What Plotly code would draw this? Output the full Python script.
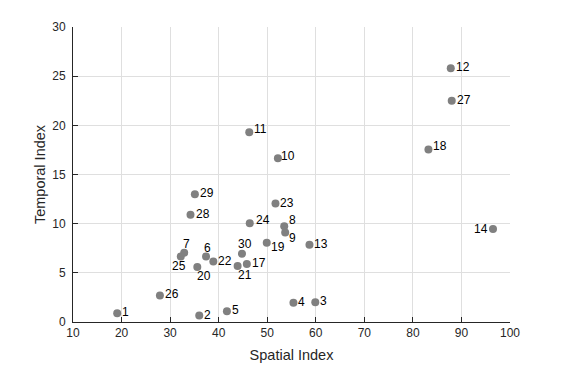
import plotly.graph_objects as go

# ---- data ----
ids = [1, 2, 3, 4, 5, 6, 7, 8, 9, 10,
       11, 12, 13, 14, 17, 18, 19, 20, 21, 22,
       23, 24, 25, 26, 27, 28, 29, 30]
spatial = [19.1, 36.0, 59.9, 55.4, 41.7, 37.4, 32.9, 53.5, 53.7, 52.2,
           46.3, 87.8, 58.7, 96.5, 45.8, 83.2, 49.9, 35.6, 43.9, 38.9,
           51.7, 46.4, 32.2, 27.9, 88.0, 34.2, 35.1, 44.8]
temporal = [0.9, 0.65, 2.0, 1.95, 1.1, 6.65, 7.05, 9.75, 9.1, 16.65,
            19.3, 25.8, 7.85, 9.45, 5.9, 17.55, 8.05, 5.6, 5.7, 6.15,
            12.05, 10.05, 6.65, 2.7, 22.5, 10.9, 13.0, 6.95]

x_ticks = list(range(10, 101, 10))
y_ticks = list(range(0, 31, 5))

# label placement (pixels) — default is just right of the marker
default_pos = dict(xshift=3, yshift=1, xanchor="left")
label_pos = {
    6: dict(xshift=-4, yshift=8.5, xanchor="left"),
    7: dict(xshift=-3, yshift=9, xanchor="left"),
    8: dict(xshift=3, yshift=6, xanchor="left"),
    9: dict(xshift=2, yshift=-5, xanchor="left"),
    10: dict(xshift=1, yshift=2.5, xanchor="left"),
    11: dict(xshift=3, yshift=3.5, xanchor="left"),
    14: dict(xshift=-3, yshift=0, xanchor="right"),
    18: dict(xshift=3, yshift=3, xanchor="left"),
    19: dict(xshift=2.5, yshift=-4, xanchor="left"),
    20: dict(xshift=-2.5, yshift=-9.5, xanchor="left"),
    21: dict(xshift=-1.5, yshift=-9.5, xanchor="left"),
    24: dict(xshift=4, yshift=3.5, xanchor="left"),
    25: dict(xshift=-10.5, yshift=-9.5, xanchor="left"),
    30: dict(xshift=-5.5, yshift=10, xanchor="left"),
}

FONT = "Liberation Sans, Arial, sans-serif"
AX = "#262626"

fig = go.Figure()
fig.add_trace(go.Scatter(
    x=spatial, y=temporal, mode="markers",
    marker=dict(size=8, color="#808080", line=dict(width=0)),
    hoverinfo="skip", showlegend=False,
))

for i, xv, yv in zip(ids, spatial, temporal):
    p = label_pos.get(i, default_pos)
    fig.add_annotation(
        x=xv, y=yv, text=str(i), showarrow=False,
        xanchor=p["xanchor"], yanchor="middle",
        xshift=p["xshift"], yshift=p["yshift"],
        font=dict(family=FONT, size=12, color="#000000"),
    )

axis_common = dict(
    showgrid=True, gridcolor="#dfdfdf", gridwidth=1,
    zeroline=False, showline=True, linecolor=AX, linewidth=1,
    ticks="inside", ticklen=5, tickcolor=AX, automargin=False,
    tickfont=dict(family=FONT, size=12, color=AX),
    title_font=dict(family=FONT, size=14.5, color=AX),
)

fig.update_xaxes(range=[10, 100], tickvals=x_ticks, title_text="Spatial Index",
                 title_standoff=10, **axis_common)
fig.update_yaxes(range=[0, 30], tickvals=y_ticks, title_text="Temporal Index",
                 title_standoff=3, ticklabelstandoff=4, **axis_common)

# page body has an 8px margin, so the figure is 8px smaller and the
# left/top margins are trimmed to land the axes where the reference has them
fig.update_layout(
    width=556, height=358,
    margin=dict(l=65, r=54, t=19, b=44),
    paper_bgcolor="white", plot_bgcolor="white",
)

fig.write_html("out.html")
